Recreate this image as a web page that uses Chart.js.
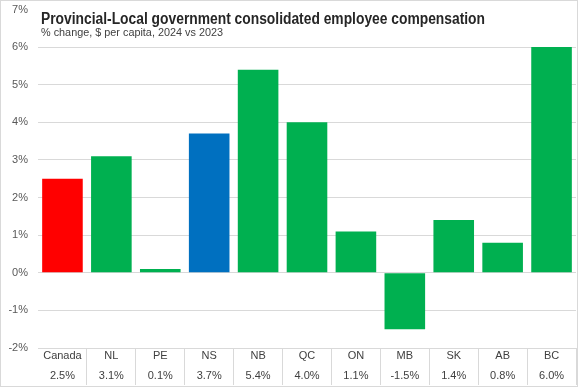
<!DOCTYPE html>
<html>
<head>
<meta charset="utf-8">
<script src="https://cdn.jsdelivr.net/npm/chart.js@4/dist/chart.umd.min.js"></script>
<style>
    html, body { margin: 0; padding: 0; background: #fff; }
    #wrap { width: 578px; height: 387px; }
</style>
</head>
<body>
<div id="wrap"><canvas id="chart" width="578" height="387"></canvas></div>
<script>
// data
const regions = ['Canada', 'NL', 'PE', 'NS', 'NB', 'QC', 'ON', 'MB', 'SK', 'AB', 'BC'];
const changes = [2.5, 3.1, 0.1, 3.7, 5.4, 4.0, 1.1, -1.5, 1.4, 0.8, 6.0];
const barColors = ['#FF0000', '#00B050', '#00B050', '#0070C0', '#00B050', '#00B050',
                   '#00B050', '#00B050', '#00B050', '#00B050', '#00B050'];
const yMin = -2;
const yMax = 7;

const title = 'Provincial-Local government consolidated employee compensation';
const subtitle = '% change, $ per capita, 2024 vs 2023';

// category label + value underneath, like the excel data row
const labels = regions.map((r, i) => [r, changes[i].toFixed(1) + '%']);

// draw text squeezed to a given width (excel uses a narrow font here)
function narrowText(ctx, text, x, y, width) {
    const w = ctx.measureText(text).width;
    const sx = Math.min(1, width / w);
    ctx.save();
    ctx.translate(x, y);
    ctx.scale(sx, 1);
    ctx.fillText(text, 0, 0);
    ctx.restore();
}

// border of the chart + title drawn over the plot top
const frame = {
    id: 'frame',
    beforeDraw(chart) {
        const ctx = chart.ctx;
        ctx.save();
        ctx.fillStyle = '#fff';
        ctx.fillRect(0, 0, chart.width, chart.height);
        ctx.restore();
    },
    afterDraw(chart) {
        const ctx = chart.ctx;
        ctx.save();
        ctx.strokeStyle = '#d9d9d9';
        ctx.lineWidth = 1;
        ctx.strokeRect(0.5, 0.5, chart.width - 1, chart.height - 1);

        ctx.textAlign = 'left';
        ctx.textBaseline = 'alphabetic';
        ctx.fillStyle = '#262626';
        ctx.font = 'bold 16px "Liberation Sans", sans-serif';
        narrowText(ctx, title, 41, 24, 444);
        ctx.fillStyle = '#404040';
        ctx.font = '11.5px "Liberation Sans", sans-serif';
        narrowText(ctx, subtitle, 41, 35.5, 182);
        ctx.restore();
    }
};

const ctx = document.getElementById('chart').getContext('2d');
const chart = new Chart(ctx, {
    type: 'bar',
    data: {
        labels,
        datasets: [
            {
                data: changes,
                backgroundColor: barColors,
                borderWidth: 0,
                categoryPercentage: 1,
                barPercentage: 0.83,
            }
        ]
    },
    options: {
        responsive: false,
        animation: false,
        layout: {
            padding: { top: 0, right: 2, bottom: 2, left: 0 }
        },
        plugins: {
            legend: { display: false },
            tooltip: { enabled: false }
        },
        scales: {
            x: {
                offset: true,
                afterFit: (scale) => {
                    scale.height = 37;
                    scale.paddingLeft = 0;
                    scale.paddingRight = 0;
                },
                border: { display: false },
                grid: {
                    offset: true,
                    drawOnChartArea: false,
                    tickLength: 37,
                    color: (c) => (c.index === 0 || c.index === regions.length) ? 'rgba(0,0,0,0)' : '#d9d9d9',
                },
                ticks: {
                    padding: -39,
                    maxRotation: 0,
                    autoSkip: false,
                    color: '#404040',
                    font: { family: '"Liberation Sans", sans-serif', size: 11, lineHeight: 1.8 }
                }
            },
            y: {
                min: yMin,
                max: yMax,
                afterFit: (scale) => {
                    scale.width = 38;
                    scale.paddingTop = 9.5;
                    scale.paddingBottom = 0;
                },
                border: { display: false },
                grid: {
                    drawTicks: false,
                    color: (c) => c.tick && c.tick.value === yMax ? 'rgba(0,0,0,0)' : '#d9d9d9',
                },
                ticks: {
                    stepSize: 1,
                    padding: 10,
                    color: '#595959',
                    font: { family: '"Liberation Sans", sans-serif', size: 11 },
                    callback: (v) => v + '%'
                }
            }
        }
    },
    plugins: [frame]
});
</script>
</body>
</html>
